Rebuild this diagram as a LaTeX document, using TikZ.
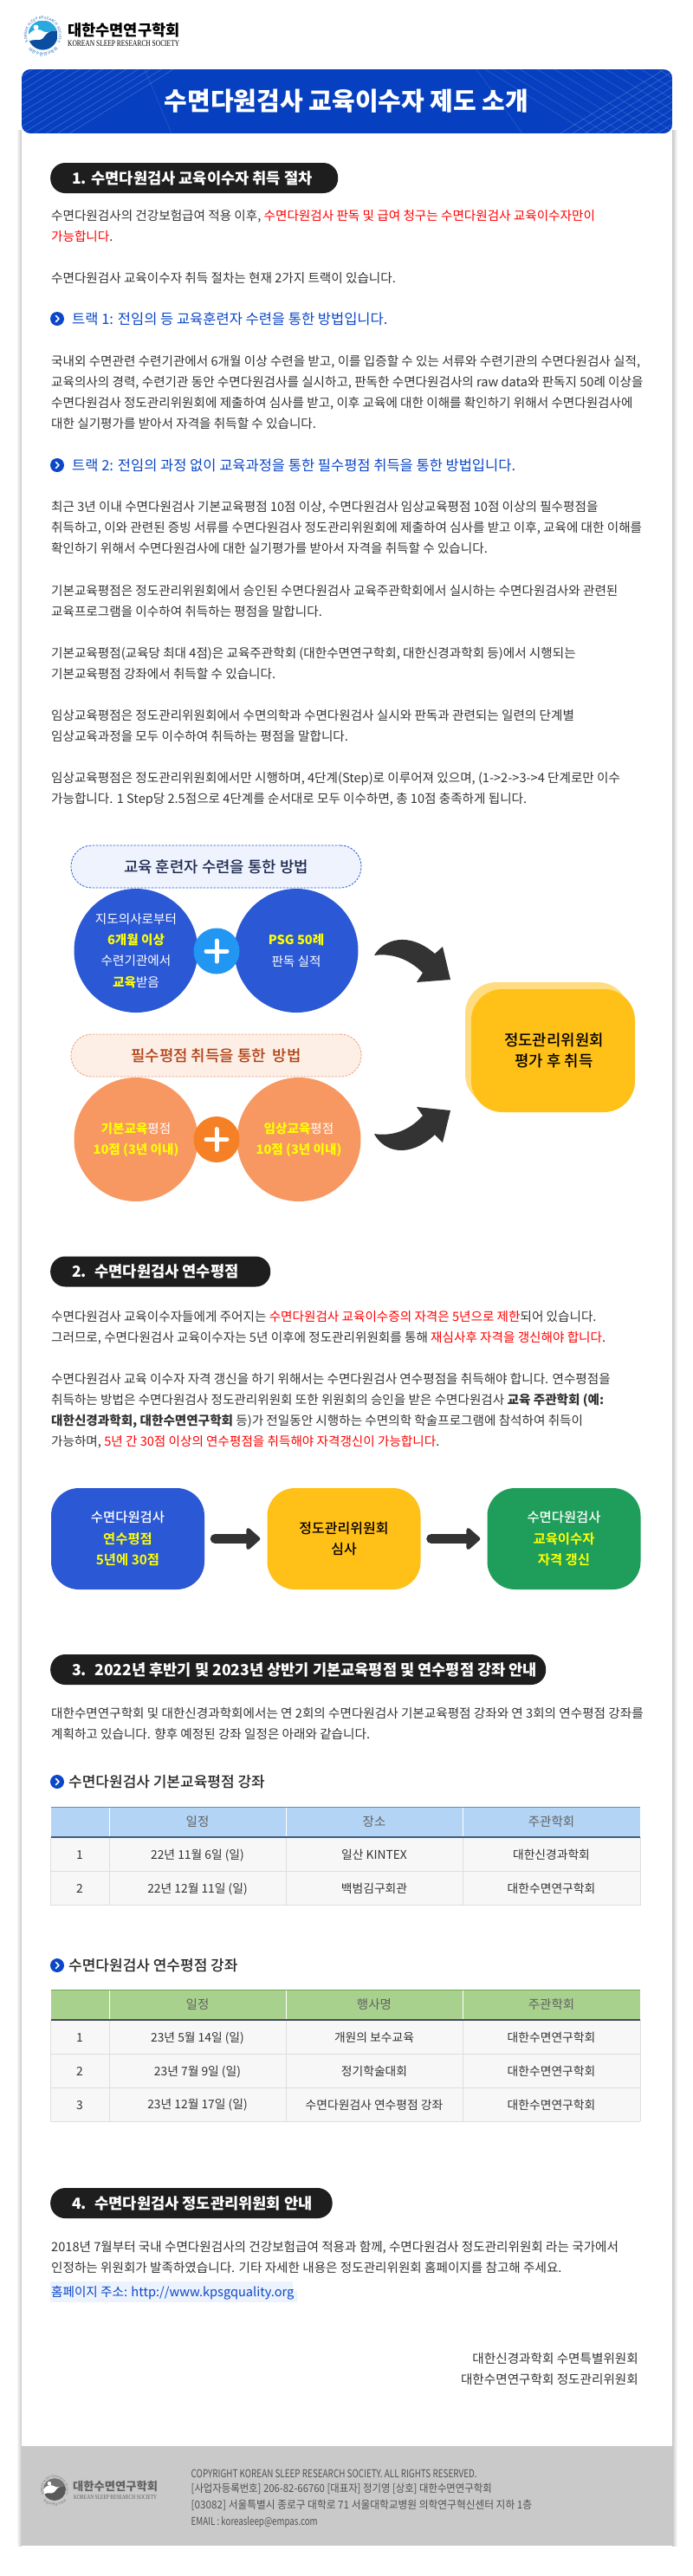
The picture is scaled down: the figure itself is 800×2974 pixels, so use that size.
\documentclass[tikz,border=0pt]{standalone}
\usepackage{fontspec}
\usepackage{graphicx}
\usetikzlibrary{arrows.meta,decorations.text,shapes.geometric}
\setmainfont{Noto Sans CJK KR}
\newfontfamily\medfont[UprightFont={* Medium},BoldFont={* Bold}]{Noto Sans CJK KR}
\newfontfamily\serifsub{Liberation Serif}
\definecolor{bodyc}{HTML}{333333}
\definecolor{redc}{HTML}{FF0000}
\definecolor{bluec}{HTML}{0B47C8}
\definecolor{headc}{HTML}{0640C0}
\definecolor{pillc}{HTML}{1E1E1E}
\definecolor{cblue}{HTML}{2B58D4}
\definecolor{corange}{HTML}{F79862}
\definecolor{cyel}{HTML}{FFC017}
\definecolor{cgreen}{HTML}{1E9E5A}
\definecolor{ytext}{HTML}{FFFF00}
\definecolor{darka}{HTML}{333333}
\definecolor{plusblue}{HTML}{2196F3}
\definecolor{plusorange}{HTML}{F58025}
\definecolor{pillfillb}{HTML}{EEF3FE}
\definecolor{pilltextb}{HTML}{1E2A50}
\definecolor{pilldasho}{HTML}{F09A70}
\definecolor{pillfillo}{HTML}{FDEEE6}
\definecolor{pilltexto}{HTML}{B04214}
\definecolor{thead}{HTML}{B3D4F4}
\definecolor{ttopb}{HTML}{5E8FC4}
\definecolor{tbotb}{HTML}{3C5E80}
\definecolor{theadg}{HTML}{A9D18E}
\definecolor{ttopg}{HTML}{6FA84F}
\definecolor{tbotg}{HTML}{444A5A}
\definecolor{tbody}{HTML}{F7F7F7}
\definecolor{tline}{HTML}{DEDEDE}
\definecolor{linkbg}{HTML}{EDF3FD}
\definecolor{footbg}{HTML}{C9C9C9}
\definecolor{logolight}{HTML}{2AA9E0}
\definecolor{logodark}{HTML}{0B4EA0}
\definecolor{logoring}{HTML}{1560B0}
\newcommand\fs[2]{\fontsize{#1}{#2}\selectfont}
\newcommand\rd[1]{\textcolor{redc}{#1}}
\newcommand\yl[1]{\textcolor{ytext}{\bfseries #1}}
\tikzset{
  bodytext/.style={anchor=base west,inner sep=0pt,text=bodyc,font=\fs{14.6}{20},yshift=-5.4pt},
  tracktext/.style={anchor=base west,inner sep=0pt,text=bluec,font=\fs{16.5}{20},yshift=-6.1pt},
  subhead/.style={anchor=base west,inner sep=0pt,text=black!85,font=\medfont\fs{17}{20},yshift=-6.3pt},
  pillbox/.style={anchor=west,inner sep=0pt,fill=pillc,rounded corners=17pt,text=white,font=\bfseries\fs{17.6}{20},minimum height=35pt},
  bulletdot/.style={circle,fill=bluec,inner sep=0pt,minimum size=16pt},
  chev/.style={draw=white,line width=1.5pt,line cap=round,line join=round},
  dashpill/.style={rounded corners=24pt,inner sep=0pt,minimum width=335pt,minimum height=49pt,dash pattern=on 2.5pt off 1.5pt,line width=.8pt,font=\medfont\fs{17.8}{20}},
  bigdot/.style={circle,inner sep=0pt,minimum size=143pt,align=center,text=white,font=\fs{14.6}{24.2}},
  plusdot/.style={circle,inner sep=0pt,minimum size=53pt},
  plusbar/.style={draw=white,line width=5pt,line cap=round},
  flowbox/.style={rounded corners=32pt,inner sep=0pt,minimum width=177pt,minimum height=117pt,align=center},
  flowarrow/.style={draw=darka,line width=11pt,-{Triangle[length=17pt,width=29pt,round]},shorten <=12pt,shorten >=8pt,line cap=round},
  cell/.style={inner sep=0pt,text=bodyc,font=\fs{13.8}{16}},
  headcell/.style={inner sep=0pt,text=black!62,font=\fs{14.5}{16}},
  foot/.style={anchor=base west,inner sep=0pt,text=black!68,font=\fs{12.5}{16},yshift=-4.6pt},
}
\newcommand\bodyline[3]{\node[bodytext] (#1) at (59,#2) {#3};}
\newcommand\footline[4]{\node[foot] (#1) at (220.5,#2) {\resizebox{#3pt}{\height}{#4}};}
\newcommand\bulletmark[2]{\node[bulletdot] (#1) at (66,#2) {};
  \draw[chev] ([xshift=-1.5pt,yshift=3.5pt]#1.center) -- ([xshift=2pt]#1.center) -- ([xshift=-1.5pt,yshift=-3.5pt]#1.center);}
% logo: cx cy scale light dark ring ringfont1 ringfont2
\newcommand\logomark[8]{%
\begin{scope}[shift={(#1,#2)},x=1pt,y=1pt,scale=#3]
  \begin{scope}
    \clip (0,0) circle (17);
    \fill[#4] (-17,-17) rectangle (17,17);
    \fill[white] (-17,0) .. controls (-10,9) and (-3,7) .. (1,4) .. controls (5,2) and (11,5) .. (17,6) -- (17,-17) -- (-17,-17) -- cycle;
    \fill[#5] (-17,-8) .. controls (-10,-3) and (-4,-8) .. (0,-4) .. controls (3,0) and (6,6) .. (17,5) -- (17,-17) -- (-17,-17) -- cycle;
    \fill[white] (-8,9) circle (3);
  \end{scope}
  \path[decorate,decoration={text along path,text color=#6,text align=fit to path,raise=-1.5pt,
     text={|\fontsize{#7}{5}\selectfont|KOREAN SLEEP RESEARCH SOCIETY}}]
     (205:20) arc[start angle=205,end angle=-25,radius=20];
  \path[decorate,decoration={text along path,text color=#6,text align=fit to path,raise=-3pt,
     text={|\fontsize{#8}{5}\selectfont|대한수면연구학회}}]
     (225:21) arc[start angle=225,end angle=315,radius=21];
\end{scope}}
\begin{document}
\begin{tikzpicture}[x=1pt,y=-1pt]
\useasboundingbox (0,0) rectangle (800,2974);
\fill[white] (0,0) rectangle (800,2974);
% card with side shadow
\fill[left color=white,right color=black!22] (19,150) rectangle (25,2939);
\fill[left color=black!22,right color=white] (776,150) rectangle (782,2939);
\fill[white] (25,150) rectangle (776,2939);
% top logo
\logomark{49.5}{40.5}{1}{logolight}{logodark}{logoring}{4.1}{4.6}
\node[anchor=base west,inner sep=0pt,font=\bfseries\fs{17.6}{20}] (logoname) at (78,41.5) {대한수면연구학회};
\node[anchor=base west,inner sep=0pt,font=\serifsub\fs{9}{10}] (logosub) at (78,53.5) {\resizebox{129pt}{6.6pt}{KOREAN SLEEP RESEARCH SOCIETY}};
% header band
\begin{scope}
  \clip[rounded corners=10pt] (25,80) rectangle (776,154);
  \fill[headc] (25,80) rectangle (776,154);
  \foreach \k in {0,...,13} \draw[white,opacity=.2,line width=.7pt] (80-13.5*\k,154) -- (200-13.5*\k,80);
  \foreach \k in {0,...,10} \draw[white,opacity=.2,line width=.7pt] (647+14*\k,154) -- (767+14*\k,80);
  \foreach \k in {0,...,16} \draw[white,opacity=.14,line width=.7pt] (560+20*\k,80) -- (680+20*\k,154);
  \draw[white,opacity=.12,line width=.7pt] (550,80) -- (603,154);
  \draw[white,opacity=.12,line width=.7pt] (167,80) -- (198,154);
\end{scope}
\node[inner sep=0pt,text=white,font=\bfseries\fs{29}{32}] (title) at (400,117) {수면다원검사 교육이수자 제도 소개};
% section 1
\node[pillbox] (sec1) at (58,205.5) {\makebox[332pt][l]{\hspace{25pt}1. 수면다원검사 교육이수자 취득 절차}};
\bodyline{a1}{249}{수면다원검사의 건강보험급여 적용 이후, \rd{수면다원검사 판독 및 급여 청구는 수면다원검사 교육이수자만이}}
\bodyline{a2}{273}{\rd{가능합니다}.}
\bodyline{a3}{321}{수면다원검사 교육이수자 취득 절차는 현재 2가지 트랙이 있습니다.}
\bulletmark{b1}{368}
\node[tracktext] (t1) at (83,368) {트랙 1: 전임의 등 교육훈련자 수련을 통한 방법입니다.};
\bodyline{a4}{417}{국내외 수면관련 수련기관에서 6개월 이상 수련을 받고, 이를 입증할 수 있는 서류와 수련기관의 수면다원검사 실적,}
\bodyline{a5}{441}{교육의사의 경력, 수련기관 동안 수면다원검사를 실시하고, 판독한 수면다원검사의 raw data와 판독지 50례 이상을}
\bodyline{a6}{465}{수면다원검사 정도관리위원회에 제출하여 심사를 받고, 이후 교육에 대한 이해를 확인하기 위해서 수면다원검사에}
\bodyline{a7}{489}{대한 실기평가를 받아서 자격을 취득할 수 있습니다.}
\bulletmark{b2}{537}
\node[tracktext] (t2) at (83,537) {트랙 2: 전임의 과정 없이 교육과정을 통한 필수평점 취득을 통한 방법입니다.};
\bodyline{a8}{585}{최근 3년 이내 수면다원검사 기본교육평점 10점 이상, 수면다원검사 임상교육평점 10점 이상의 필수평점을}
\bodyline{a9}{609}{취득하고, 이와 관련된 증빙 서류를 수면다원검사 정도관리위원회에 제출하여 심사를 받고 이후, 교육에 대한 이해를}
\bodyline{a10}{633}{확인하기 위해서 수면다원검사에 대한 실기평가를 받아서 자격을 취득할 수 있습니다.}
\bodyline{a11}{682}{기본교육평점은 정도관리위원회에서 승인된 수면다원검사 교육주관학회에서 실시하는 수면다원검사와 관련된}
\bodyline{a12}{706}{교육프로그램을 이수하여 취득하는 평점을 말합니다.}
\bodyline{a13}{754}{기본교육평점(교육당 최대 4점)은 교육주관학회 (대한수면연구학회, 대한신경과학회 등)에서 시행되는}
\bodyline{a14}{778}{기본교육평점 강좌에서 취득할 수 있습니다.}
\bodyline{a15}{826}{임상교육평점은 정도관리위원회에서 수면의학과 수면다원검사 실시와 판독과 관련되는 일련의 단계별}
\bodyline{a16}{850}{임상교육과정을 모두 이수하여 취득하는 평점을 말합니다.}
\bodyline{a17}{898}{임상교육평점은 정도관리위원회에서만 시행하며, 4단계(Step)로 이루어져 있으며, (1->2->3->4 단계로만 이수}
\bodyline{a18}{922}{가능합니다. 1 Step당 2.5점으로 4단계를 순서대로 모두 이수하면, 총 10점 충족하게 됩니다.}
% diagram 1
\node[dashpill,draw=cblue,fill=pillfillb,text=pilltextb] (p1) at (249.5,1000.5) {교육 훈련자 수련을 통한 방법};
\node[bigdot,fill=cblue] (c1) at (157,1097.5) {지도의사로부터\\\yl{6개월 이상}\\수련기관에서\\\yl{교육}받음};
\node[bigdot,fill=cblue] (c2) at (342,1097.5) {\yl{PSG 50례}\\판독 실적};
\node[plusdot,fill=plusblue] (plus1) at (250,1098) {};
\draw[plusbar] ([xshift=-12pt]plus1.center) -- ([xshift=12pt]plus1.center);
\draw[plusbar] ([yshift=-12pt]plus1.center) -- ([yshift=12pt]plus1.center);
\node[dashpill,draw=pilldasho,fill=pillfillo,text=pilltexto] (p2) at (249.5,1218.5) {필수평점 취득을 통한\hspace{4pt} 방법};
\node[bigdot,fill=corange] (c3) at (157,1315.5) {\yl{기본교육}평점\\\yl{10점 (3년 이내)}};
\node[bigdot,fill=corange] (c4) at (345,1315.5) {\yl{임상교육}평점\\\yl{10점 (3년 이내)}};
\node[plusdot,fill=plusorange] (plus2) at (250,1315.5) {};
\draw[plusbar] ([xshift=-12pt]plus2.center) -- ([xshift=12pt]plus2.center);
\draw[plusbar] ([yshift=-12pt]plus2.center) -- ([yshift=12pt]plus2.center);
% curved arrows
\fill[darka] (432,1103) .. controls (443,1084) and (472,1075) .. (502,1101) -- (511,1093) -- (520,1131) -- (481,1134) -- (488,1123) .. controls (472,1107) and (452,1100) .. (432,1103) -- cycle;
\fill[darka] (432,1309) .. controls (443,1330) and (472,1338) .. (502,1310) -- (511,1319) -- (520,1282) -- (481,1278) -- (488,1288) .. controls (472,1306) and (452,1312) .. (432,1309) -- cycle;
% review box
\node[rounded corners=36pt,fill=cyel,inner sep=0pt,minimum width=189pt,minimum height=142pt] (rev) at (638.5,1213) {};
\fill[rounded corners=36pt,cyel,opacity=.55] (537,1134) rectangle (726,1276);
\node[inner sep=0pt,align=center,font=\medfont\fs{17.8}{24.2}] (revt) at (639.5,1213) {정도관리위원회\\평가 후 취득};
% section 2
\node[pillbox] (sec2) at (58,1468) {\makebox[254pt][l]{\hspace{25pt}2.\hspace{4pt} 수면다원검사 연수평점}};
\bodyline{d1}{1520}{수면다원검사 교육이수자들에게 주어지는 \rd{수면다원검사 교육이수증의 자격은 5년으로 제한}되어 있습니다.}
\bodyline{d2}{1544}{그러므로, 수면다원검사 교육이수자는 5년 이후에 정도관리위원회를 통해 \rd{재심사후 자격을 갱신해야 합니다}.}
\bodyline{d3}{1592}{수면다원검사 교육 이수자 자격 갱신을 하기 위해서는 수면다원검사 연수평점을 취득해야 합니다. 연수평점을}
\bodyline{d4}{1616}{취득하는 방법은 수면다원검사 정도관리위원회 또한 위원회의 승인을 받은 수면다원검사 \textbf{교육 주관학회 (예:}}
\bodyline{d5}{1640}{\textbf{대한신경과학회, 대한수면연구학회} 등)가 전일동안 시행하는 수면의학 학술프로그램에 참석하여 취득이}
\bodyline{d6}{1664}{가능하며, \rd{5년 간 30점 이상의 연수평점을 취득해야 자격갱신이 가능합니다}.}
% flow
\node[flowbox,fill=cblue,text=white,font=\medfont\fs{15.4}{24.4}] (f1) at (147.5,1776.5) {수면다원검사\\\yl{연수평점}\\\yl{5년에 30점}};
\node[flowbox,fill=cyel,font=\medfont\fs{16}{24.6}] (f2) at (397,1776.5) {정도관리위원회\\심사};
\node[flowbox,fill=cgreen,text=white,font=\medfont\fs{15.4}{24.4}] (f3) at (651,1776.5) {수면다원검사\\\yl{교육이수자}\\\yl{자격 갱신}};
\draw[flowarrow] (f1) -- (f2);
\draw[flowarrow] (f2) -- (f3);
% section 3
\node[pillbox] (sec3) at (58,1927.5) {\makebox[572pt][l]{\hspace{25pt}3.\hspace{4pt} 2022년 후반기 및 2023년 상반기 기본교육평점 및 연수평점 강좌 안내}};
\bodyline{e1}{1978}{대한수면연구학회 및 대한신경과학회에서는 연 2회의 수면다원검사 기본교육평점 강좌와 연 3회의 연수평점 강좌를}
\bodyline{e2}{2002}{계획하고 있습니다. 향후 예정된 강좌 일정은 아래와 같습니다.}
\bulletmark{b3}{2057}
\node[subhead] (h1) at (79,2057) {수면다원검사 기본교육평점 강좌};
% table 1
\fill[tbody] (58.5,2121) rectangle (739,2199.5);
\fill[thead] (58.5,2086) rectangle (739,2121);
\foreach \xx in {126,330.5,534} {\draw[white,line width=1pt] (\xx,2086) -- (\xx,2121); \draw[tline,line width=1pt] (\xx,2121) -- (\xx,2199.5);}
\draw[tline,line width=1pt] (58.5,2160.7) -- (739,2160.7) (58.5,2199.5) -- (739,2199.5) (58.5,2121) -- (58.5,2199.5) (739,2121) -- (739,2199.5);
\draw[ttopb,line width=1pt] (58.5,2086) -- (739,2086);
\draw[tbotb,line width=1.2pt] (58.5,2121) -- (739,2121);
\node[headcell] (t1h2) at (228,2103.5) {일정};
\node[headcell] (t1h3) at (432,2103.5) {장소};
\node[headcell] (t1h4) at (636.5,2103.5) {주관학회};
\node[cell] (t1a1) at (92,2141.7) {1};
\node[cell] (t1a2) at (228,2141.7) {22년 11월 6일 (일)};
\node[cell] (t1a3) at (432,2141.7) {일산 KINTEX};
\node[cell] (t1a4) at (636.5,2141.7) {대한신경과학회};
\node[cell] (t1b1) at (92,2180.7) {2};
\node[cell] (t1b2) at (228,2180.7) {22년 12월 11일 (일)};
\node[cell] (t1b3) at (432,2180.7) {백범김구회관};
\node[cell] (t1b4) at (636.5,2180.7) {대한수면연구학회};
% table 2
\bulletmark{b4}{2269}
\node[subhead] (h2) at (79,2269) {수면다원검사 연수평점 강좌};
\fill[tbody] (58.5,2332) rectangle (739,2449.3);
\fill[theadg] (58.5,2297) rectangle (739,2332);
\foreach \xx in {126,330.5,534} {\draw[white,line width=1pt] (\xx,2297) -- (\xx,2332); \draw[tline,line width=1pt] (\xx,2332) -- (\xx,2449.3);}
\draw[tline,line width=1pt] (58.5,2371.3) -- (739,2371.3) (58.5,2410.3) -- (739,2410.3) (58.5,2449.3) -- (739,2449.3) (58.5,2332) -- (58.5,2449.3) (739,2332) -- (739,2449.3);
\draw[ttopg,line width=1pt] (58.5,2297) -- (739,2297);
\draw[tbotg,line width=1.2pt] (58.5,2332) -- (739,2332);
\node[headcell] (t2h2) at (228,2314.5) {일정};
\node[headcell] (t2h3) at (432,2314.5) {행사명};
\node[headcell] (t2h4) at (636.5,2314.5) {주관학회};
\node[cell] (t2a1) at (92,2352.7) {1};
\node[cell] (t2a2) at (228,2352.7) {23년 5월 14일 (일)};
\node[cell] (t2a3) at (432,2352.7) {개원의 보수교육};
\node[cell] (t2a4) at (636.5,2352.7) {대한수면연구학회};
\node[cell] (t2b1) at (92,2391.7) {2};
\node[cell] (t2b2) at (228,2391.7) {23년 7월 9일 (일)};
\node[cell] (t2b3) at (432,2391.7) {정기학술대회};
\node[cell] (t2b4) at (636.5,2391.7) {대한수면연구학회};
\node[cell] (t2c1) at (92,2430.5) {3};
\node[cell] (t2c2) at (228,2430.5) {23년 12월 17일 (일)};
\node[cell] (t2c3) at (432,2430.5) {수면다원검사 연수평점 강좌};
\node[cell] (t2c4) at (636.5,2430.5) {대한수면연구학회};
% section 4
\node[pillbox] (sec4) at (58,2543.5) {\makebox[325.5pt][l]{\hspace{25pt}4.\hspace{4pt} 수면다원검사 정도관리위원회 안내}};
\bodyline{g1}{2594}{2018년 7월부터 국내 수면다원검사의 건강보험급여 적용과 함께, 수면다원검사 정도관리위원회 라는 국가에서}
\bodyline{g2}{2618}{인정하는 위원회가 발족하였습니다. 기타 자세한 내용은 정도관리위원회 홈페이지를 참고해 주세요.}
\fill[linkbg] (58,2634) rectangle (338,2658);
\fill[linkbg] (338,2645) rectangle (343,2658);
\node[anchor=base west,inner sep=0pt,text=bluec,font=\fs{14.6}{20},yshift=-5.4pt] (link) at (59,2646) {홈페이지 주소: http://www.kpsgquality.org};
\node[anchor=base east,inner sep=0pt,text=bodyc,font=\fs{14.6}{20},yshift=-5.4pt] (sig1) at (737,2723) {대한신경과학회 수면특별위원회};
\node[anchor=base east,inner sep=0pt,text=bodyc,font=\fs{14.6}{20},yshift=-5.4pt] (sig2) at (737,2747) {대한수면연구학회 정도관리위원회};
% footer
\fill[footbg] (25,2824) rectangle (776,2939);
\logomark{63}{2874}{.76}{black!55}{black!65}{black!58}{3.1}{3.5}
\node[anchor=base west,inner sep=0pt,text=black!62,font=\bfseries\fs{13.3}{16}] (flogo) at (84,2875) {대한수면연구학회};
\node[anchor=base west,inner sep=0pt,text=black!62,font=\serifsub\fs{7}{8}] (flogosub) at (85,2885) {\resizebox{96pt}{5pt}{KOREAN SLEEP RESEARCH SOCIETY}};
\footline{f5}{2856}{330}{COPYRIGHT KOREAN SLEEP RESEARCH SOCIETY. ALL RIGHTS RESERVED.}
\footline{f6}{2873}{347}{[사업자등록번호] 206-82-66760 [대표자] 정기영 [상호] 대한수면연구학회}
\footline{f7}{2892}{393.5}{[03082] 서울특별시 종로구 대학로 71 서울대학교병원 의학연구혁신센터 지하 1층}
\footline{f8}{2911}{146}{EMAIL : koreasleep@empas.com}
\end{tikzpicture}
\end{document}
